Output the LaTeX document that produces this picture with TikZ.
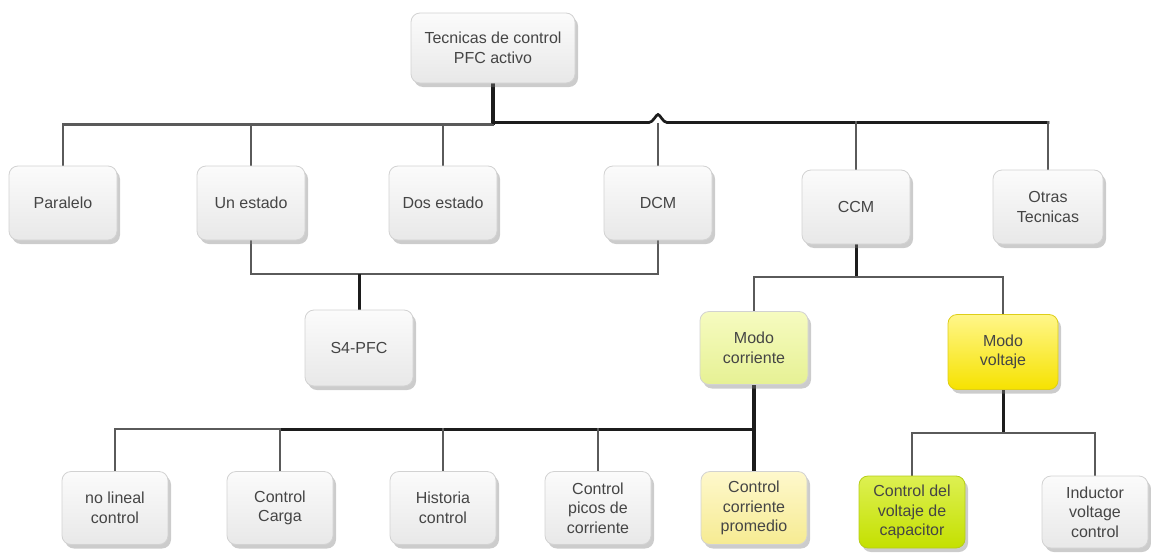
\documentclass[tikz,border=0pt]{standalone}
\usepackage{fontspec}
\setmainfont{Liberation Sans}
\usetikzlibrary{shadows,calc,backgrounds}
\definecolor{txt}{HTML}{454545}
\definecolor{lineg}{HTML}{5A5A5A}
\definecolor{lined}{HTML}{1C1C1C}
\definecolor{mcA}{HTML}{F6FBC0}
\definecolor{mcB}{HTML}{E6F194}
\definecolor{mvA}{HTML}{FFF68A}
\definecolor{mvB}{HTML}{F6E200}
\definecolor{cpA}{HTML}{FEF8CC}
\definecolor{cpB}{HTML}{F6EB92}
\definecolor{cvA}{HTML}{DDF052}
\definecolor{cvB}{HTML}{C4E000}
\begin{document}
\begin{tikzpicture}[x=1pt,y=-1pt,
  box/.style={rounded corners=9pt, draw=gray!35, line width=0.8pt,
    top color=gray!3, bottom color=gray!18,
    drop shadow={shadow xshift=3pt,shadow yshift=-4pt,opacity=.4},
    minimum width=108pt, minimum height=74pt, align=center,
    font=\fontsize{16}{19.5}\selectfont, text=txt, inner sep=2pt},
  small/.style={minimum width=106pt, minimum height=73pt},
  conn/.style={line width=2.7pt, draw=lineg, line cap=rect, line join=miter},
  dconn/.style={line width=3pt, draw=lined, line cap=butt, line join=miter}]
\useasboundingbox (0,0) rectangle (1151,557);
% nodes
\node[box, minimum width=164pt, minimum height=70pt] (root) at (493,48) {Tecnicas de control\\PFC activo};
\node[box] (par) at (63,203) {Paralelo};
\node[box] (un) at (251,203) {Un estado};
\node[box] (dos) at (443,203) {Dos estado};
\node[box] (dcm) at (658,203) {DCM};
\node[box] (ccm) at (856,207) {CCM};
\node[box, minimum width=110pt] (otr) at (1048,207) {Otras\\Tecnicas};
\node[box, minimum height=76pt] (s4) at (359,348) {S4-PFC};
\node[box, minimum height=73pt, top color=mcA, bottom color=mcB] (mc) at (754,348) {Modo\\corriente};
\node[box, minimum width=110pt, minimum height=75pt, top color=mvA, bottom color=mvB, draw=mvB!80!gray] (mv) at (1003,352) {Modo\\voltaje};
\node[box, small] (nl) at (115,508) {no lineal\\control};
\node[box, small] (cc) at (280,508) {Control\\Carga};
\node[box, small] (hi) at (443,508) {Historia\\control};
\node[box, small] (cp) at (598,508) {Control\\picos de\\corriente};
\node[box, small, top color=cpA, bottom color=cpB] (cpr) at (754,508) {Control\\corriente\\promedio};
\node[box, small, minimum height=72pt, top color=cvA, bottom color=cvB, draw=cvB!80!gray] (cv) at (912,512) {Control del\\voltaje de\\capacitor};
\node[box, small, minimum height=72pt] (iv) at (1095,512) {Inductor\\voltage\\control};
% connectors
\begin{pgfonlayer}{background}
\coordinate (tj) at (493,124.5);
\coordinate (tr) at (493,122.5);
\draw[dconn, line width=3.3pt] (root.south) -- (tj);
\draw[conn] (tj) -- (par.north |- tj) -- (par.north);
\draw[conn] (un.north |- tj) -- (un.north);
\draw[conn] (dos.north |- tj) -- (dos.north);
\coordinate (hp) at ($(dcm.north |- tr)+(0,-8)$);
\coordinate (h1) at ($(dcm.north |- tr)+(-9,0)$);
\coordinate (h2) at ($(dcm.north |- tr)+(9,0)$);
\draw[dconn, line width=2.7pt, line cap=rect] (tr) -- (h1) .. controls +(4,0) and +(-2,0) .. (hp) .. controls +(2,0) and +(-4,0) .. (h2) -- (otr.north |- tr);
\draw[conn] (dcm.north |- tj) -- (dcm.north);
\draw[conn] (ccm.north |- tr) -- (ccm.north);
\draw[conn] (otr.north |- tr) -- (otr.north);
% S4-PFC
\coordinate (sj) at (359,274);
\draw[conn] (un.south) -- (un.south |- sj) -- (dcm.south |- sj) -- (dcm.south);
\draw[dconn] (sj) -- (s4.north);
% CCM
\coordinate (cj) at (856,277);
\draw[dconn] (ccm.south) -- (cj);
\draw[conn] (mc.north) -- (mc.north |- cj) -- (mv.north |- cj) -- (mv.north);
% Modo corriente
\coordinate (mj) at (754,429);
\draw[dconn, line width=3.3pt] (mc.south) -- (mj) -- (cpr.north);
\draw[conn] (nl.north) -- (nl.north |- mj) -- (cc.north |- mj);
\draw[dconn] (cc.north |- mj) -- (mj);
\draw[conn] (cc.north |- mj) -- (cc.north);
\draw[conn] (hi.north |- mj) -- (hi.north);
\draw[conn] (cp.north |- mj) -- (cp.north);
% Modo voltaje
\coordinate (vj) at (1003,433);
\draw[dconn] (mv.south) -- (vj);
\draw[conn] (cv.north) -- (cv.north |- vj) -- (iv.north |- vj) -- (iv.north);
\end{pgfonlayer}
\end{tikzpicture}
\end{document}
